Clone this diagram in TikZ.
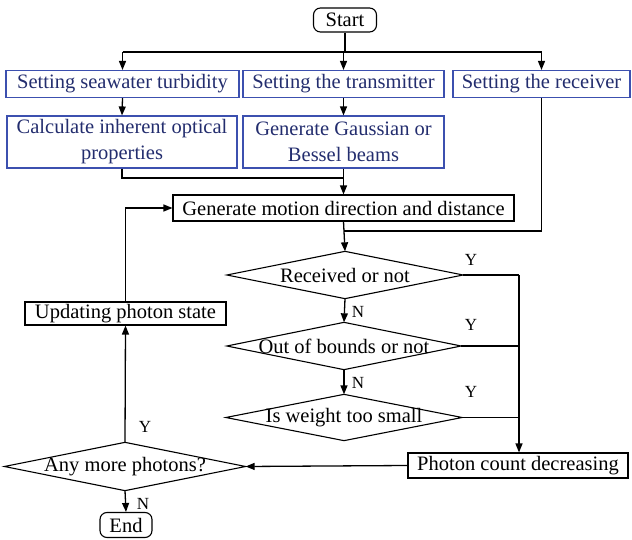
\documentclass[tikz,border=0pt]{standalone}
\usepackage{fontspec}
\setmainfont{Liberation Serif}
\usetikzlibrary{arrows.meta}
\definecolor{bbord}{RGB}{60,80,175}
\definecolor{btext}{RGB}{35,45,110}
\begin{document}
\begin{tikzpicture}[x=1pt,y=-1pt,
  font=\rmfamily\fontsize{20.5}{26}\selectfont,
  line width=1.3pt,
  >={Triangle[length=9pt,width=7pt]},
  bluebox/.style={draw=bbord,text=btext,inner sep=0pt,line width=1.1pt},
  blackbox/.style={draw,inner sep=0pt,line width=1.1pt},
  term/.style={draw,rounded corners=7pt,inner sep=0pt,line width=1.1pt},
  dia/.style={inner sep=0pt,minimum width=235pt,minimum height=46pt},
  lab/.style={font=\rmfamily\fontsize{17}{19}\selectfont}]
\useasboundingbox (0,0) rectangle (632,540);

\node[term,minimum width=63pt,minimum height=24pt] (start) at (345,20) {Start};
\node[bluebox,minimum width=233pt,minimum height=27pt] (b1) at (122.5,84) {Setting seawater turbidity};
\node[bluebox,minimum width=201pt,minimum height=27pt] (b2) at (343.5,84) {Setting the transmitter};
\node[bluebox,minimum width=177pt,minimum height=27pt] (b3) at (541.5,84) {Setting the receiver};
\node[bluebox,minimum width=230pt,minimum height=52pt,align=center] (b4) at (122,142) {Calculate inherent optical\\properties};
\node[bluebox,minimum width=201pt,minimum height=52pt,align=center] (b5) at (343.5,142) {Generate Gaussian or\\Bessel beams};
\node[blackbox,minimum width=341pt,minimum height=26pt] (gen) at (343.5,208) {Generate motion direction and distance};

\node[dia] (d1) at (345,275) {Received or not};
\node[dia,minimum width=233pt] (d2) at (344,346) {Out of bounds or not};
\node[dia,minimum height=45pt] (d3) at (344,417.5) {Is weight too small};
\node[dia,minimum width=240pt,minimum height=47pt] (d4) at (125,466.5) {Any more photons?};
\foreach \d in {d1,d2,d3,d4}
  \draw[line width=1.1pt] (\d.north) -- (\d.east) -- (\d.south) -- (\d.west) -- cycle;

\node[blackbox,minimum width=220pt,minimum height=25pt] (pc) at (518,465.5) {Photon count decreasing};
\node[blackbox,minimum width=201pt,minimum height=23pt] (up) at (125.5,313.5) {Updating photon state};
\node[term,minimum width=52pt,minimum height=25pt] (end) at (126,525) {End};

% top distribution
\coordinate (hy) at (0,52);
\draw (start.south) -- (start.south |- hy);
\draw[->] (b1.north |- hy) -- (b1.north);
\draw[->] (b2.north |- hy) -- (b2.north);
\draw[->] (b3.north |- hy) -- (b3.north);
\draw (b1.north |- hy) -- (b3.north |- hy);
\draw[->] (b1.south) -- (b4.north);
\draw[->] (b2.south) -- (b5.north);
\coordinate (my) at (0,178);
\draw (b4.south) -- (b4.south |- my) -- (b5.south |- my);
\draw[->] (b5.south) -- (gen.north);
\coordinate (ry) at (0,231);
\draw (b3.south) -- (b3.south |- ry) -- (gen.south |- ry);
\draw[->] (gen.south) -- (d1.north);

% decisions
\coordinate (rx) at (519,0);
\draw (d1.east) -- (d1.east -| rx);
\draw (d2.east) -- (d2.east -| rx);
\draw (d3.east) -- (d3.east -| rx);
\draw[->] (d1.east -| rx) -- (pc.north -| rx);
\draw[->] (d1.south) -- (d2.north);
\draw[->] (d2.south) -- (d3.north);
\draw[->] (pc.west) -- (d4.east);
\draw[->] (d4.north) -- (up.south);
\draw[->] (up.north) -- (up.north |- gen.west) -- (gen.west);
\draw[->] (d4.south) -- (end.north);

% labels
\node[lab] (y1) at (471,260) {Y};
\node[lab] (y2) at (471,325) {Y};
\node[lab] (y3) at (471,392) {Y};
\node[lab] (y4) at (145,427) {Y};
\node[lab] (n1) at (358,312) {N};
\node[lab] (n2) at (358,383) {N};
\node[lab] (n3) at (143,504) {N};
\end{tikzpicture}
\end{document}
